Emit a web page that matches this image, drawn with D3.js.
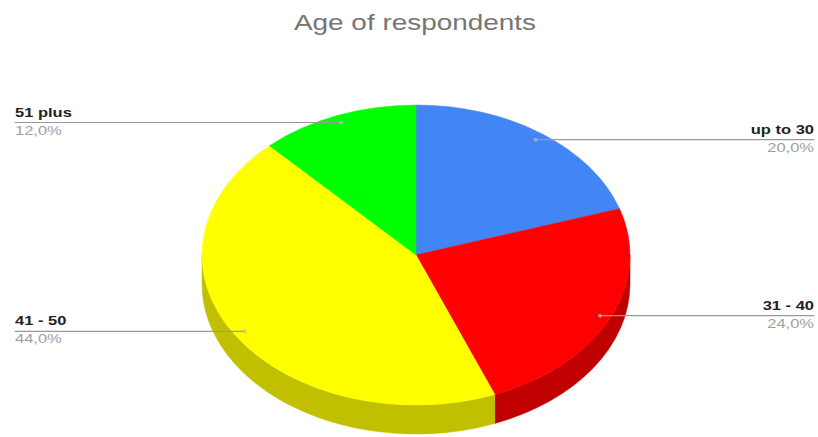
<!DOCTYPE html>
<html>
<head>
<meta charset="utf-8">
<script src="https://cdn.jsdelivr.net/npm/d3@7"></script>
<style>
  html, body { margin: 0; padding: 0; background: #fff; }
  svg { display: block; font-family: "Liberation Sans", Arial, sans-serif; }
</style>
</head>
<body>
<svg id="chart" width="818" height="437"></svg>
<script>
// Survey data: respondents by age group
const categories = ["up to 30", "31 - 40", "41 - 50", "51 plus"];
const values = [20, 24, 44, 12];
const percentLabels = ["20,0%", "24,0%", "44,0%", "12,0%"];
const colors = ["#4285f4", "#ff0000", "#ffff00", "#00ff00"];
const title = "Age of respondents";

const W = 818, H = 437;
const cx = 416, cy = 255;      // centre of the top face
const rx = 214, ry = 150;      // ellipse radii of the tilted disc
const depth = 29;              // thickness of the disc
const stretch = 1.27;          // horizontal text stretch
const labelLeft = 15, labelRight = 814;

const svg = d3.select("#chart");

const pie = d3.pie().sort(null).value(d => d.value);
const arcs = pie(categories.map((c, i) => ({ name: c, value: values[i], pct: percentLabels[i], color: colors[i] })));

// point on the projected ellipse for a pie angle (clockwise from 12 o'clock)
const pt = (a, k = 1, dy = 0) => [cx + rx * k * Math.sin(a), cy - ry * k * Math.cos(a) + dy];

// front walls: only angles between 3 o'clock and 9 o'clock face the viewer
const wallG = svg.append("g");
arcs.forEach(d => {
  const a0 = Math.max(d.startAngle, Math.PI / 2);
  const a1 = Math.min(d.endAngle, 3 * Math.PI / 2);
  if (a1 <= a0) return;
  const t0 = pt(a0), t1 = pt(a1), b0 = pt(a0, 1, depth), b1 = pt(a1, 1, depth);
  const large = (a1 - a0) > Math.PI ? 1 : 0;
  const path = `M${t0[0]},${t0[1]} A${rx},${ry} 0 ${large} 1 ${t1[0]},${t1[1]}` +
               ` L${b1[0]},${b1[1]} A${rx},${ry} 0 ${large} 0 ${b0[0]},${b0[1]} Z`;
  wallG.append("path")
    .attr("d", path)
    .attr("fill", d3.color(d.data.color).darker(0.8))
    .attr("stroke", d3.color(d.data.color).darker(0.8))
    .attr("stroke-width", 0.5);
});

// top face slices
const topG = svg.append("g");
arcs.forEach(d => {
  const s = pt(d.startAngle), e = pt(d.endAngle);
  const large = (d.endAngle - d.startAngle) > Math.PI ? 1 : 0;
  const path = `M${cx},${cy} L${s[0]},${s[1]} A${rx},${ry} 0 ${large} 1 ${e[0]},${e[1]} Z`;
  topG.append("path")
    .attr("d", path)
    .attr("fill", d.data.color)
    .attr("stroke", d.data.color)
    .attr("stroke-width", 0.5);
});

// leader lines and labels
const labG = svg.append("g");
arcs.forEach(d => {
  const mid = (d.startAngle + d.endAngle) / 2;
  const [ax, ay] = pt(mid, 0.95);
  const right = mid < Math.PI;
  const x = right ? labelRight : labelLeft;
  labG.append("line")
    .attr("x1", ax).attr("y1", ay)
    .attr("x2", x).attr("y2", ay)
    .attr("stroke", "#9a9a9a")
    .attr("stroke-width", 1.2);
  labG.append("circle")
    .attr("cx", ax).attr("cy", ay).attr("r", 2)
    .attr("fill", "#bbbbbb").attr("fill-opacity", 0.7);
  labG.append("text")
    .attr("transform", `translate(${x},${ay - 6}) scale(${stretch},1)`)
    .attr("text-anchor", right ? "end" : "start")
    .attr("font-size", 13)
    .attr("font-weight", "bold")
    .attr("fill", "#222222")
    .text(d.data.name);
  labG.append("text")
    .attr("transform", `translate(${x},${ay + 12}) scale(${stretch},1)`)
    .attr("text-anchor", right ? "end" : "start")
    .attr("font-size", 13)
    .attr("fill", "#a0a0a0")
    .text(d.data.pct);
});

// title
svg.append("text")
  .attr("transform", `translate(415,30) scale(${stretch},1)`)
  .attr("text-anchor", "middle")
  .attr("font-size", 22)
  .attr("fill", "#757575")
  .text(title);
</script>
</body>
</html>
